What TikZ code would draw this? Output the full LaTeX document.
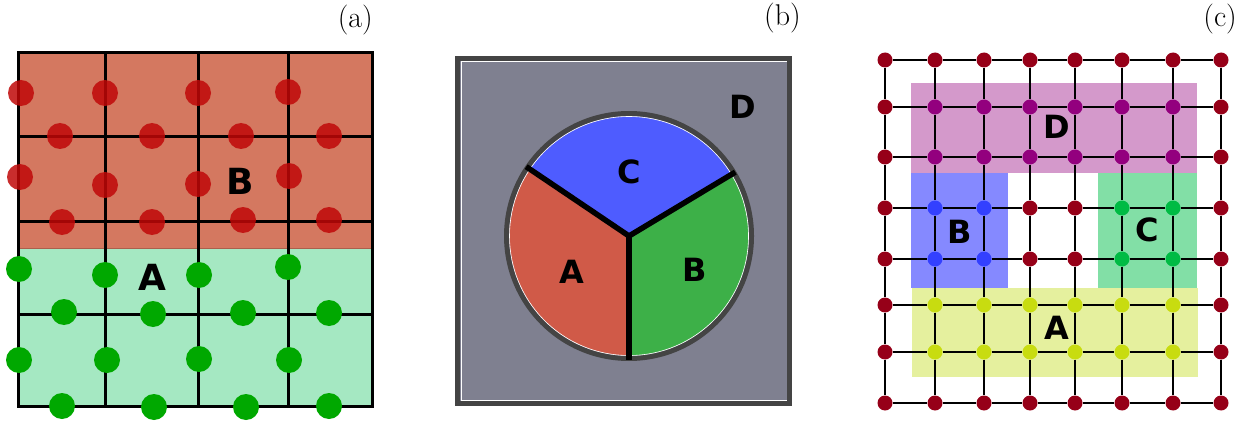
\documentclass[tikz,border=0pt]{standalone}
\usepackage{fontspec}
\newfontfamily\zonefont{DejaVu Sans}
\usetikzlibrary{positioning}

\definecolor{redzone}{RGB}{212,120,96}
\definecolor{greenzone}{RGB}{165,232,194}
\definecolor{dotred}{RGB}{192,8,8}
\definecolor{dotgreen}{RGB}{0,168,0}
\definecolor{panelgray}{RGB}{127,128,144}
\definecolor{framegray}{RGB}{68,68,68}
\definecolor{sectA}{RGB}{208,90,72}
\definecolor{sectB}{RGB}{61,176,72}
\definecolor{sectC}{RGB}{78,92,255}
\definecolor{zoneD}{RGB}{212,153,203}
\definecolor{zoneB}{RGB}{133,137,255}
\definecolor{zoneC}{RGB}{130,223,166}
\definecolor{zoneA}{RGB}{229,240,158}
\definecolor{dotedge}{RGB}{150,0,24}
\definecolor{dotD}{RGB}{147,0,126}
\definecolor{dotB}{RGB}{51,64,255}
\definecolor{dotC}{RGB}{0,187,68}
\definecolor{dotA}{RGB}{200,220,16}

\begin{document}
\begin{tikzpicture}[
  x=1pt, y=-1pt,
  tag/.style={anchor=east, inner sep=0pt, font=\fontsize{30}{34}\selectfont},
  zonelabel/.style={inner sep=0pt, font=\zonefont\bfseries\fontsize{32}{36}\selectfont},
  biglabel/.style={zonelabel, font=\zonefont\bfseries\fontsize{36}{40}\selectfont},
  gridline/.style={line width=3pt, black},
  reddot/.style={circle, fill=dotred, fill opacity=0.85, minimum size=26pt, inner sep=0pt},
  greendot/.style={circle, fill=dotgreen, minimum size=26pt, inner sep=0pt},
  site/.style={circle, fill=dotedge, minimum size=15pt, inner sep=0pt},
  link/.style={line width=2pt, draw=black},
  spoke/.style={line width=5.5pt, black}
]
\useasboundingbox (0,0) rectangle (1241,422);

% (a) two layered zones on a square grid
\fill[redzone] (18,53) rectangle (372,248);
\fill[greenzone] (18,248) rectangle (372,406);
\draw[redzone!80!black, line width=1pt] (18,248) -- (372,248);
\foreach \x in {105,198,288} \draw[gridline] (\x,53) -- (\x,406);
\foreach \y in {137,221,314} \draw[gridline] (18,\y) -- (372,\y);
\draw[gridline] (18,53) rectangle (372,406);
\foreach \x/\y [count=\k] in {21/93,105/93,198/93,288/92,60/136,152/136,241/136,329/136,
    20/177,105/185,198/184,289/176,62/222,152/222,243/220,329/220}
  \node[reddot] (red\k) at (\x,\y) {};
\foreach \x/\y [count=\k] in {19/269,105/275,199/275,288/267,64/312,153/314,243/313,329/313,
    19/360,107/360,199/359,289/360,62/406,154/407,246/407,329/406}
  \node[greendot] (green\k) at (\x,\y) {};
\node[biglabel] (labB-a) at (240,181) {B};
\node[biglabel] (labA-a) at (152,277) {A};
\node[tag] (tag-a) at (373,20) {(a)};

% (b) disc cut in three sectors inside a box
\fill[panelgray] (457,58) rectangle (790,404);
\draw[white, line width=1pt] (461,62) rectangle (787.5,400.5);
\draw[framegray, line width=5pt] (457.5,58.5) rectangle (789.5,403.5);
\begin{scope}[shift={(629,236)}, y=1pt]
  \coordinate (hub) at (0,0);
  \draw[framegray, line width=5pt] (hub) circle (122.5);
  \filldraw[fill=sectA, draw=white, line width=0.6pt] (hub) -- (146:119.5) arc (146:270:119.5) -- cycle;
  \filldraw[fill=sectB, draw=white, line width=0.6pt] (hub) -- (270:119.5) arc (270:391:119.5) -- cycle;
  \filldraw[fill=sectC, draw=white, line width=0.6pt] (hub) -- (31:119.5) arc (31:146:119.5) -- cycle;
  \coordinate (cutA) at (146:124);
  \coordinate (cutB) at (31:124);
  \coordinate (cutC) at (270:124);
  \draw[spoke] (hub) -- (cutA);
  \draw[spoke] (hub) -- (cutB);
  \draw[spoke] (hub) -- (cutC);
\end{scope}
\node[zonelabel] (labC-b) at (629,172) {C};
\node[zonelabel] (labA-b) at (572,272) {A};
\node[zonelabel] (labB-b) at (695,270) {B};
\node[zonelabel] (labD-b) at (743,107) {D};
\node[tag] (tag-b) at (801,18) {(b)};

% (c) lattice of sites split into four zones
\fill[zoneD] (911,83) rectangle (1197,173);
\fill[zoneB] (911,173) rectangle (1008,288);
\fill[zoneC] (1098,173) rectangle (1197,288);
\fill[zoneA] (912,288) rectangle (1198,377);
\foreach \x [count=\i from 0] in {885,935,984,1030,1075,1122,1173,1221}
  \foreach \y [count=\j from 0] in {60,107,157,208,259,305,352,403}
    \coordinate (p-\i-\j) at (\x,\y);
\foreach \i in {0,...,7} {
  \node[site] (n-\i-0) at (p-\i-0) {};
  \node[site] (n-\i-7) at (p-\i-7) {};
}
\foreach \j in {1,...,6} {
  \node[site] (n-0-\j) at (p-0-\j) {};
  \node[site] (n-7-\j) at (p-7-\j) {};
}
\foreach \i in {1,...,6} \foreach \j in {1,2} \node[site, fill=dotD] (n-\i-\j) at (p-\i-\j) {};
\foreach \i in {1,2} \foreach \j in {3,4} \node[site, fill=dotB] (n-\i-\j) at (p-\i-\j) {};
\foreach \i in {3,4} \foreach \j in {3,4} \node[site] (n-\i-\j) at (p-\i-\j) {};
\foreach \i in {5,6} \foreach \j in {3,4} \node[site, fill=dotC] (n-\i-\j) at (p-\i-\j) {};
\foreach \i in {1,...,6} \foreach \j in {5,6} \node[site, fill=dotA] (n-\i-\j) at (p-\i-\j) {};
\foreach \i in {0,...,7} {
  \foreach \j in {0,...,6} {
    \pgfmathtruncatemacro{\nxt}{\j+1}
    \draw[link] (n-\i-\j) -- (n-\i-\nxt);
    \draw[link] (n-\j-\i) -- (n-\nxt-\i);
  }
}
\node[zonelabel] (labD-c) at (1057,127) {D};
\node[zonelabel] (labB-c) at (960,232) {B};
\node[zonelabel] (labC-c) at (1147,230) {C};
\node[zonelabel] (labA-c) at (1057,328) {A};
\node[tag] (tag-c) at (1237,19) {(c)};
\end{tikzpicture}
\end{document}
